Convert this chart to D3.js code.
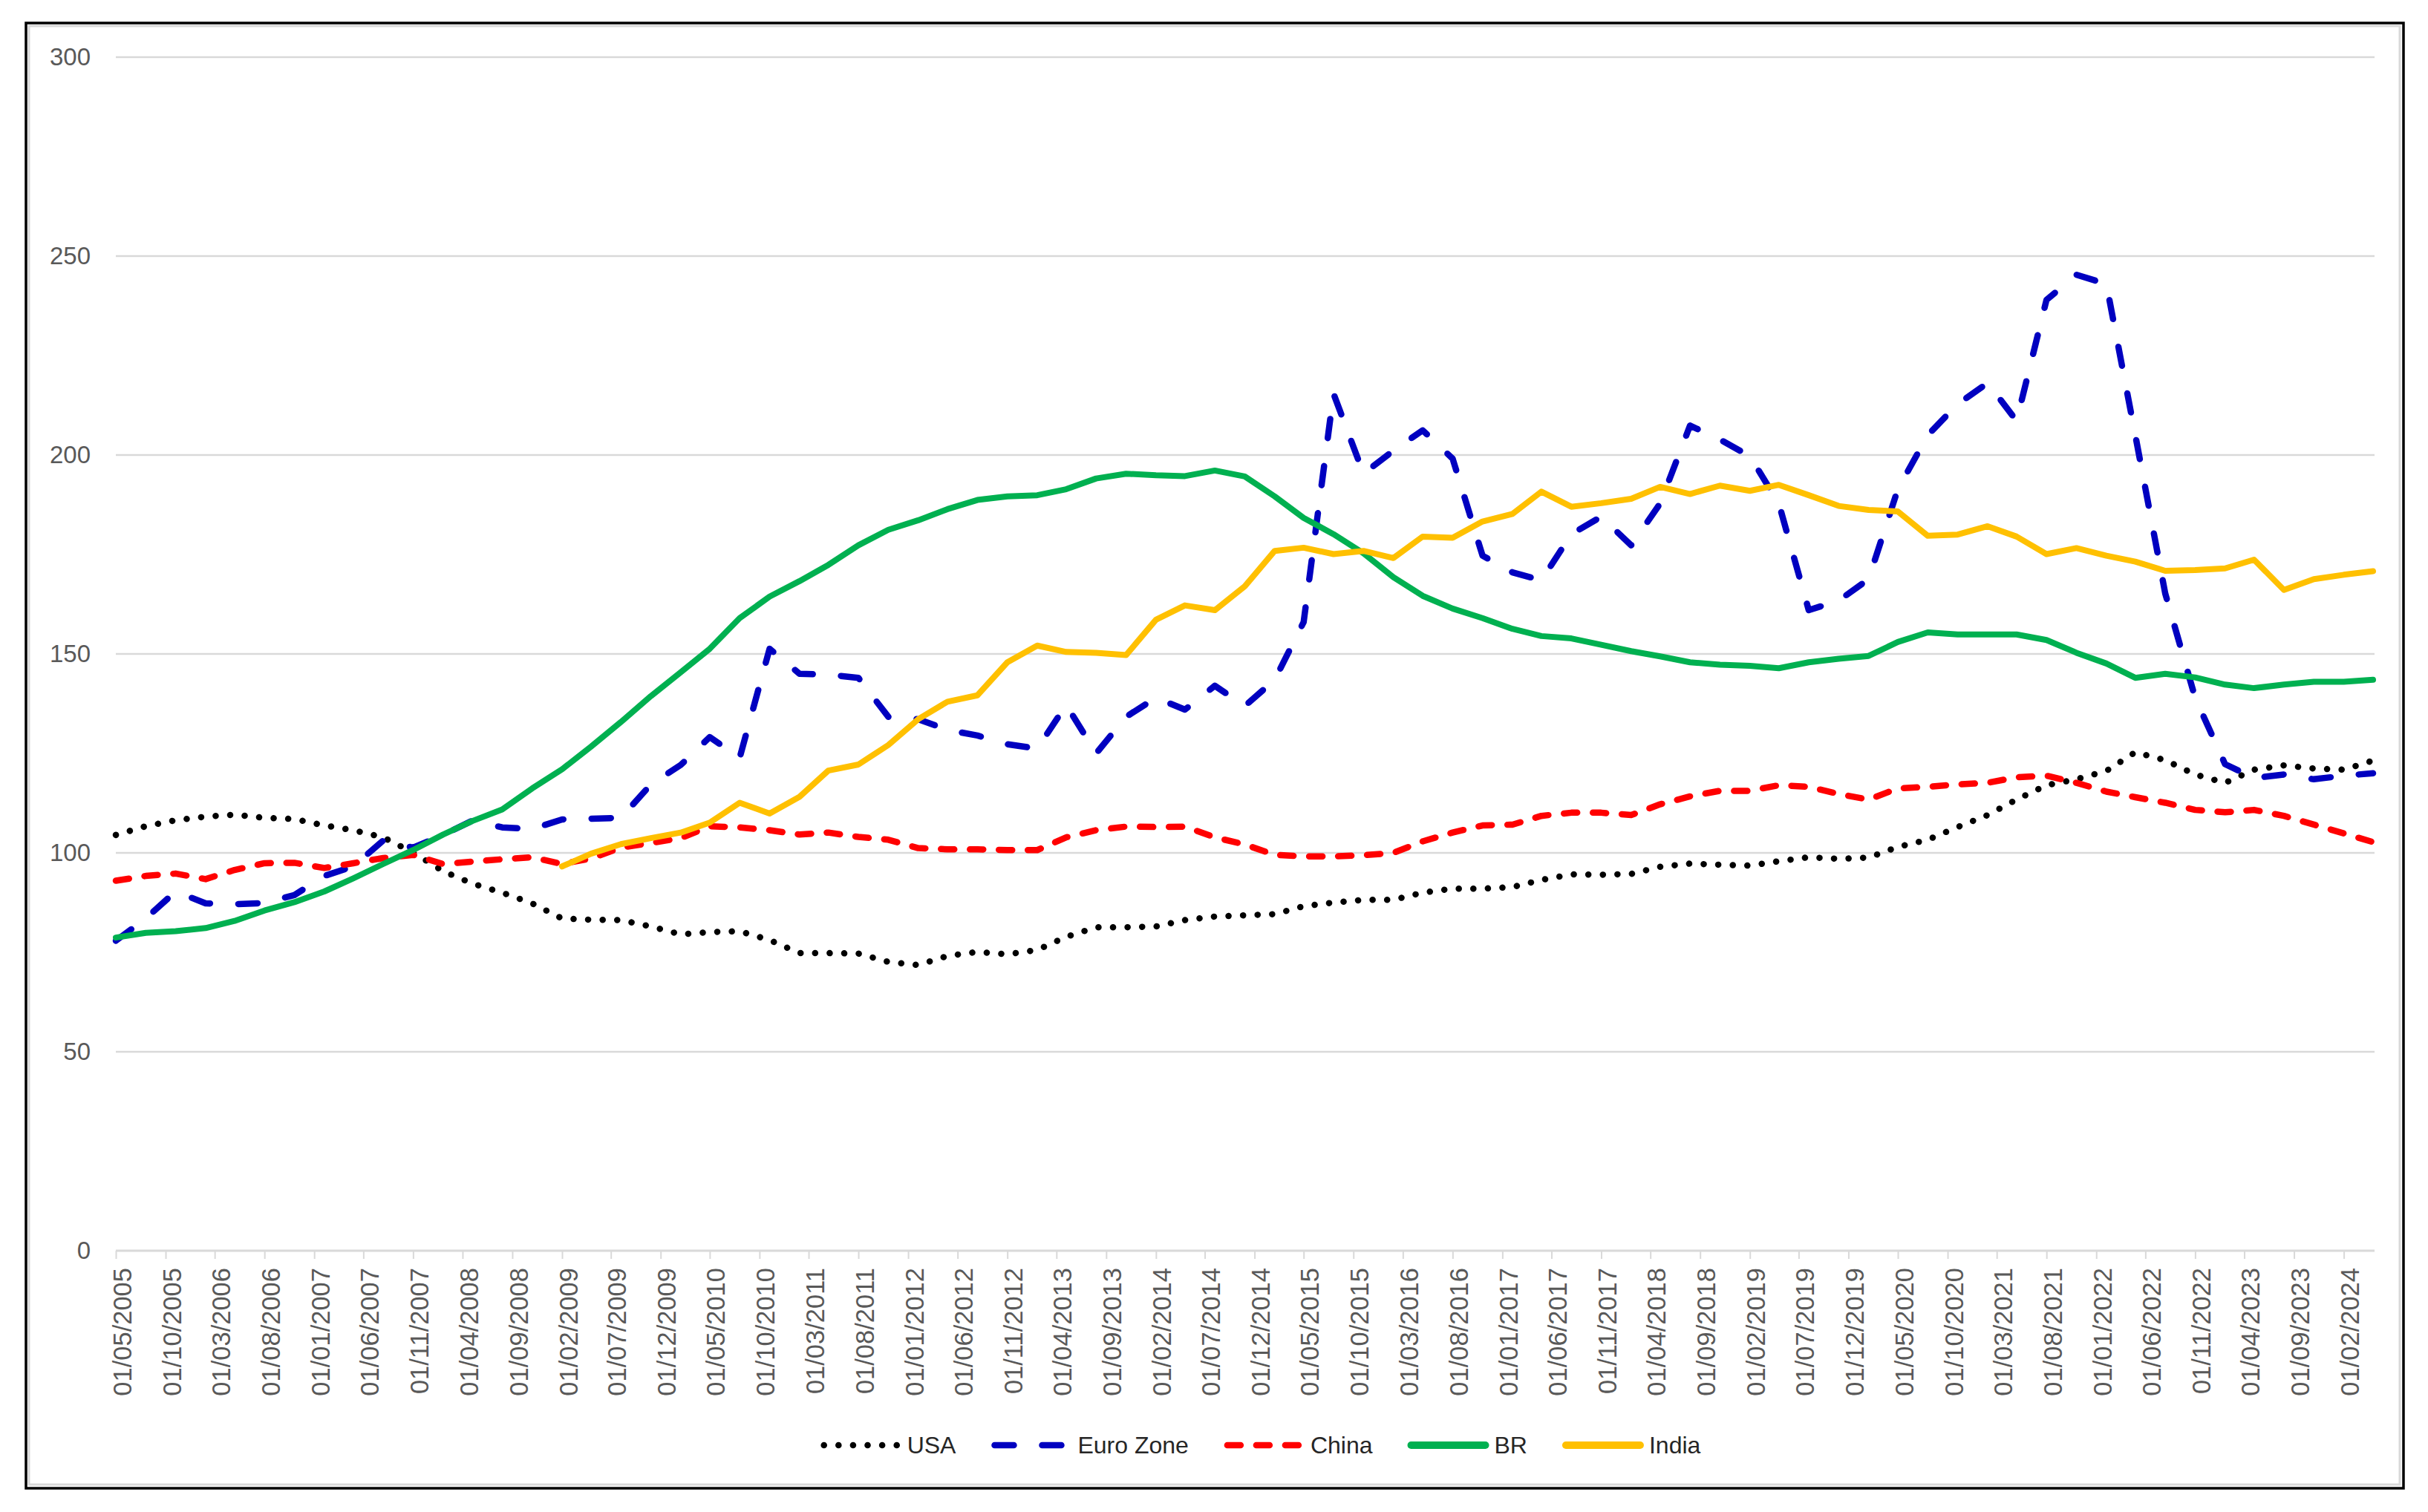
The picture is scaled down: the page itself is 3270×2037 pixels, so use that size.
<!DOCTYPE html>
<html>
<head>
<meta charset="utf-8">
<script src="https://cdn.jsdelivr.net/npm/d3@7/dist/d3.min.js"></script>
<style>
  body { margin: 0; background: #fff; }
  svg { display: block; }
  text { font-family: "Liberation Sans", Arial, sans-serif; }
</style>
</head>
<body>
<div id="chart"></div>
<script>
// quarterly observations, first one 01/05/2005
const firstDate = "01/05/2005";
const nPoints = 77;

const tickLabels = ["01/05/2005","01/10/2005","01/03/2006","01/08/2006","01/01/2007","01/06/2007","01/11/2007",
  "01/04/2008","01/09/2008","01/02/2009","01/07/2009","01/12/2009","01/05/2010","01/10/2010","01/03/2011",
  "01/08/2011","01/01/2012","01/06/2012","01/11/2012","01/04/2013","01/09/2013","01/02/2014","01/07/2014",
  "01/12/2014","01/05/2015","01/10/2015","01/03/2016","01/08/2016","01/01/2017","01/06/2017","01/11/2017",
  "01/04/2018","01/09/2018","01/02/2019","01/07/2019","01/12/2019","01/05/2020","01/10/2020","01/03/2021",
  "01/08/2021","01/01/2022","01/06/2022","01/11/2022","01/04/2023","01/09/2023","01/02/2024"];

const yTicks = [0, 50, 100, 150, 200, 250, 300];

const usa = [104.5,106.7,108.2,109.1,109.6,108.8,108.5,106.9,105.7,103.9,100.1,95.4,92.3,90.0,87.3,83.5,
  83.2,83.1,81.5,79.5,80.1,80.3,78.1,74.8,74.8,74.7,72.6,71.8,74.1,75.1,74.5,75.6,78.9,81.3,81.3,81.5,
  83.1,84.0,84.3,84.6,86.6,87.5,88.2,88.2,90.0,91.0,91.0,91.4,93.2,94.6,94.5,94.7,96.5,97.3,97.0,96.8,
  97.9,98.9,98.5,98.8,101.5,103.3,106.5,109.5,113.4,117.0,118.5,120.6,125.3,123.3,119.7,117.6,120.9,
  122.0,121.2,120.9,123.2];

const euroZone = [77.9,83.5,90.3,87.3,87.1,87.4,89.4,94.2,96.6,103.1,101.3,104.5,108.1,106.4,106.0,108.4,
  108.6,108.8,117.2,122.1,129.1,123.9,151.3,145.0,144.8,144.0,134.2,133.6,130.9,129.5,127.3,126.2,137.2,
  125.0,134.2,139.0,136.0,142.0,136.9,143.5,158.0,215.4,195.3,201.1,206.2,199.1,174.7,170.5,168.5,180.1,
  184.5,177.3,187.8,207.4,203.9,199.7,187.8,161.0,163.4,168.8,191.4,205.0,212.8,218.1,208.6,239.0,245.3,
  243.0,205.0,165.2,139.0,122.3,118.8,119.7,118.5,119.4,120.0];

const china = [93.0,94.2,94.8,93.4,95.7,97.4,97.5,96.2,97.4,98.7,99.5,97.2,97.8,98.4,98.9,97.2,98.6,101.3,
  102.5,103.7,106.7,106.4,105.7,104.6,105.1,104.0,103.3,101.2,100.9,100.9,100.7,100.7,103.9,105.7,106.6,
  106.5,106.6,103.9,102.1,99.5,99.1,99.1,99.4,100.0,102.9,105.1,106.9,107.1,109.3,110.1,110.1,109.5,112.2,
  114.2,115.6,115.6,117.0,116.6,114.8,113.4,116.2,116.6,117.2,117.6,119.0,119.4,117.6,115.4,114.0,112.6,
  110.8,110.2,110.8,109.3,107.1,104.9,102.7];

const br = [78.7,79.9,80.3,81.1,82.9,85.5,87.6,90.3,93.6,97.2,100.7,104.6,108.0,110.9,116.2,121.0,126.7,
  132.9,139.4,145.4,151.3,159.0,164.4,168.3,172.4,177.3,181.2,183.6,186.4,188.7,189.6,189.9,191.4,194.1,
  195.3,194.9,194.7,196.1,194.6,189.6,184.2,180.1,175.3,169.3,164.6,161.4,159.0,156.3,154.5,153.9,152.3,
  150.7,149.4,147.9,147.3,147.0,146.4,147.9,148.8,149.5,153.0,155.4,154.9,154.9,154.9,153.5,150.3,147.6,
  144.0,145.0,144.1,142.3,141.4,142.3,143.0,143.0,143.5];

const india = [null,null,null,null,null,null,null,null,null,null,null,null,null,null,null,96.6,99.8,102.2,
  103.7,105.1,107.6,112.6,109.9,114.1,120.7,122.2,127.1,133.6,138.0,139.6,147.9,152.1,150.5,150.3,149.7,
  158.6,162.2,161.0,167.0,175.9,176.7,175.1,175.9,174.1,179.5,179.2,183.3,185.2,190.8,187.0,187.9,189.0,
  192.0,190.2,192.3,191.0,192.5,189.9,187.2,186.2,185.8,179.7,180.0,182.1,179.5,175.1,176.6,174.7,173.2,
  170.9,171.1,171.5,173.7,166.1,168.8,169.9,170.8];

const seriesNames = ["USA", "Euro Zone", "China", "BR", "India"];

const parseDay = d3.timeParse("%d/%m/%Y");
const start = parseDay(firstDate);
const dates = d3.range(nPoints).map(i => d3.timeMonth.offset(start, 3 * i));
const tickDates = tickLabels.map(parseDay);

const series = [
  {name: seriesNames[0], values: usa,      color: "#000000", dash: "0.1,19.5"},
  {name: seriesNames[1], values: euroZone, color: "#0000C0", dash: "26,38"},
  {name: seriesNames[2], values: china,    color: "#FF0000", dash: "18,21"},
  {name: seriesNames[3], values: br,       color: "#00B050", dash: null},
  {name: seriesNames[4], values: india,    color: "#FFC000", dash: null}
];

const W = 3270, H = 2037;
const plot = {left: 156, right: 3196, top: 77, bottom: 1685};

const svg = d3.select("#chart").append("svg")
  .attr("width", W)
  .attr("height", H);

svg.append("rect").attr("width", W).attr("height", H).attr("fill", "#fff");

// outer frame of the picture
svg.append("rect")
  .attr("x", 39).attr("y", 35).attr("width", 3193).attr("height", 1965)
  .attr("fill", "none").attr("stroke", "#D9D9D9").attr("stroke-width", 3);
svg.append("rect")
  .attr("x", 35).attr("y", 31).attr("width", 3202).attr("height", 1974)
  .attr("fill", "none").attr("stroke", "#000").attr("stroke-width", 3.5);

const x = d3.scaleTime()
  .domain([dates[0], dates[dates.length - 1]])
  .range([plot.left, plot.right]);

const y = d3.scaleLinear()
  .domain([0, 300])
  .range([plot.bottom, plot.top]);

// gridlines
svg.append("g")
  .selectAll("line")
  .data(yTicks.filter(d => d > 0))
  .enter()
  .append("line")
    .attr("x1", plot.left)
    .attr("x2", plot.right + 2)
    .attr("y1", d => y(d))
    .attr("y2", d => y(d))
    .attr("stroke", "#D9D9D9")
    .attr("stroke-width", 2.5);

// y axis labels
const yAxis = svg.append("g")
  .attr("transform", "translate(" + (plot.left - 34) + ",0)")
  .call(d3.axisLeft(y).tickValues(yTicks).tickSize(0).tickPadding(0));
yAxis.select(".domain").remove();
yAxis.selectAll("text")
  .attr("fill", "#595959")
  .style("font-size", "33px");

// x axis
const xAxis = svg.append("g")
  .attr("transform", "translate(0," + plot.bottom + ")")
  .call(d3.axisBottom(x).tickValues(tickDates).tickSize(11).tickSizeOuter(0)
    .tickFormat((d, i) => tickLabels[i]));
xAxis.select(".domain")
  .attr("stroke", "#D9D9D9")
  .attr("stroke-width", 3)
  .attr("d", "M" + plot.left + ",0H" + (plot.right + 2));
xAxis.selectAll(".tick line")
  .attr("stroke", "#D9D9D9")
  .attr("stroke-width", 2);
xAxis.selectAll(".tick text")
  .attr("fill", "#595959")
  .style("font-size", "34.5px")
  .attr("text-anchor", "end")
  .attr("transform", "rotate(-90)")
  .attr("x", -23)
  .attr("y", 8)
  .attr("dy", "0.35em");

// lines
const line = d3.line()
  .defined(d => d[1] != null)
  .x(d => x(d[0]))
  .y(d => y(d[1]));

series.forEach(s => {
  svg.append("path")
    .datum(dates.map((d, i) => [d, s.values[i]]))
    .attr("fill", "none")
    .attr("stroke", s.color)
    .attr("stroke-width", s.dash ? 8.5 : 8)
    .attr("stroke-linejoin", "round")
    .attr("stroke-linecap", "round")
    .attr("stroke-dasharray", s.dash)
    .attr("d", line);
});

// legend
const legend = svg.append("g");
const sampleLen = 108, legY = 1947;
let cursor = 0;
series.forEach(s => {
  const g = legend.append("g").attr("transform", "translate(" + cursor + ",0)");
  g.append("line")
    .attr("x1", 4).attr("x2", sampleLen - 4)
    .attr("y1", legY).attr("y2", legY)
    .attr("stroke", s.color)
    .attr("stroke-width", s.dash ? 8.5 : 10)
    .attr("stroke-linecap", "round")
    .attr("stroke-dasharray", s.dash);
  const t = g.append("text")
    .attr("x", sampleLen + 8)
    .attr("y", legY)
    .attr("dy", "0.35em")
    .attr("fill", "#262626")
    .style("font-size", "32px")
    .text(s.name);
  cursor += sampleLen + 8 + t.node().getComputedTextLength() + 48;
});
const legW = cursor - 48;
legend.attr("transform", "translate(" + (1698 - legW / 2) + ",0)");
</script>
</body>
</html>
